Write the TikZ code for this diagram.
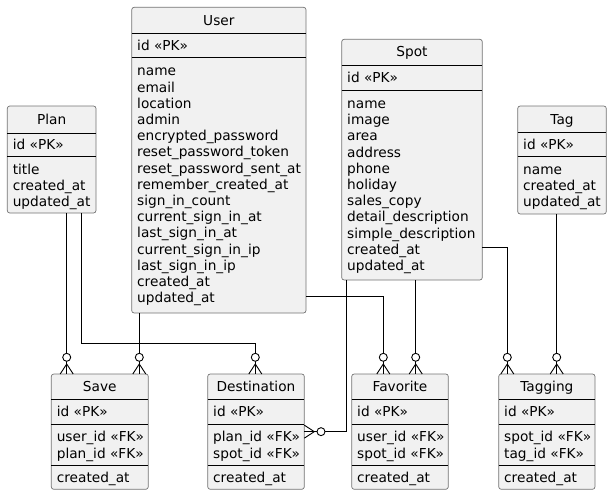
\documentclass[tikz,border=0pt]{standalone}
\usepackage{fontspec}
\setmainfont{DejaVu Sans}
\definecolor{boxfill}{HTML}{F1F1F1}
\newcommand\mkent[8]{%
  \pgfmathsetmacro\entw{#4-#2}%
  \pgfmathsetmacro\enth{#5-#3}%
  \node[ent, minimum width=\entw pt, minimum height=\enth pt] (#1) at (#2,#3) {};
  \draw[sepline] (#2,#7) -- (#4,#7);
  \draw[sepline] (#2,#8) -- (#4,#8);
  \node[ttl] (#1t) at ({(#2+#4)/2},{(#3+#7)/2+4.8}) {#6};
}
\newcommand\flist[4]{%
  \foreach \ftext [count=\fidx] in {#4} {
    \node[txt] (#1-\fidx) at (#2,{#3+(\fidx-1)*16.2}) {\ftext};
  }
}
\begin{document}
\begin{tikzpicture}[x=1pt,y=-1pt,
  ent/.style={draw=black!55, line width=0.7pt, fill=boxfill, rounded corners=2.5pt, inner sep=0pt, outer sep=0pt, anchor=north west},
  sepline/.style={draw=black, line width=0.9pt},
  txt/.style={font=\fontsize{13.7}{16.2}\selectfont, inner sep=0pt, outer sep=0pt, anchor=base west},
  ttl/.style={font=\fontsize{13.7}{16.2}\selectfont, inner sep=0pt, outer sep=0pt, anchor=base},
  conn/.style={draw=black, line width=0.9pt},
  crowdown/.pic={\draw[conn] (-6.5,0) -- (0,-10) -- (6.5,0); \draw[conn, fill=white] (0,-16.7) circle (4);},
  crowleft/.pic={\draw[conn] (0,-6.5) -- (10,0) -- (0,6.5); \draw[conn, fill=white] (16.7,0) circle (4);}
]
\useasboundingbox (0,0) rectangle (612,495);

% User
\mkent{User}{131.7}{7.3}{306}{313}{User}{33.3}{57.3}
\node[txt] (Userpk) at (137.2,50.1) {id «PK»};
\flist{Userf}{137.2}{75.8}{name,email,location,admin,encrypted\_password,reset\_password\_token,reset\_password\_sent\_at,remember\_created\_at,sign\_in\_count,current\_sign\_in\_at,last\_sign\_in\_at,current\_sign\_in\_ip,last\_sign\_in\_ip,created\_at,updated\_at}

% Plan
\mkent{Plan}{7.3}{106}{96}{213}{Plan}{133}{156}
\node[txt] (Planpk) at (12.8,149.3) {id «PK»};
\flist{Planf}{12.8}{174.3}{title,created\_at,updated\_at}

% Spot
\mkent{Spot}{341.7}{39.3}{482.3}{280}{Spot}{65}{90.7}
\node[txt] (Spotpk) at (347.2,82.6) {id «PK»};
\flist{Spotf}{347.2}{108.4}{name,image,area,address,phone,holiday,sales\_copy,detail\_description,simple\_description,created\_at,updated\_at}

% Tag
\mkent{Tag}{517.7}{106}{606.3}{214}{Tag}{132.7}{156}
\node[txt] (Tagpk) at (523.2,149.1) {id «PK»};
\flist{Tagf}{523.2}{174.3}{name,created\_at,updated\_at}

% bottom entities
\mkent{Save}{51.3}{374}{148.3}{489.3}{Save}{399.3}{424.3}
\draw[sepline] (51.3,465.3) -- (148.3,465.3);
\node[txt] (Savepk) at (56.8,416.6) {id «PK»};
\flist{Savefk}{56.8}{441.8}{user\_id «FK»,plan\_id «FK»}
\node[txt] (Savec) at (56.8,482.3) {created\_at};

\mkent{Destination}{207.7}{374}{304.3}{489.3}{Destination}{399.3}{424.3}
\draw[sepline] (207.7,465.3) -- (304.3,465.3);
\node[txt] (Destpk) at (213.2,416.6) {id «PK»};
\flist{Destfk}{213.2}{441.8}{plan\_id «FK»,spot\_id «FK»}
\node[txt] (Destc) at (213.2,482.3) {created\_at};

\mkent{Favorite}{351.7}{374}{448.3}{489.3}{Favorite}{399.3}{424.3}
\draw[sepline] (351.7,465.3) -- (448.3,465.3);
\node[txt] (Favpk) at (357.2,416.6) {id «PK»};
\flist{Favfk}{357.2}{441.8}{user\_id «FK»,spot\_id «FK»}
\node[txt] (Favc) at (357.2,482.3) {created\_at};

\mkent{Tagging}{498.7}{374}{595}{489.3}{Tagging}{399.3}{424.3}
\draw[sepline] (498.7,465.3) -- (595,465.3);
\node[txt] (Tgpk) at (504.2,416.6) {id «PK»};
\flist{Tgfk}{504.2}{441.8}{spot\_id «FK»,tag\_id «FK»}
\node[txt] (Tgc) at (504.2,482.3) {created\_at};

% connectors
\coordinate (ps) at ([xshift=59.4pt]Plan.south west);
\draw[conn] (ps) -- (ps |- Save.north) pic{crowdown};

\coordinate (pd) at ([xshift=74pt]Plan.south west);
\draw[conn] (pd) |- ([xshift=-0.7pt,yshift=30.7pt]Destination.north) -- ([xshift=-0.7pt]Destination.north) pic{crowdown};

\coordinate (us) at ([xshift=7.6pt]User.south west);
\draw[conn] (us) -- (us |- Save.north) pic{crowdown};

\draw[conn] ([yshift=16.3pt]User.south east) -| ([xshift=31.6pt]Favorite.north west) pic{crowdown};

\draw[conn] ([xshift=5pt]Spot.south west) |- (Destination.east) pic{crowleft};

\coordinate (sf) at ([xshift=74pt]Spot.south west);
\draw[conn] (sf) -- (sf |- Favorite.north) pic{crowdown};

\draw[conn] ([yshift=32.7pt]Spot.south east) -| ([xshift=8.6pt]Tagging.north west) pic{crowdown};

\coordinate (tt) at ([xshift=39pt]Tag.south west);
\draw[conn] (tt) -- (tt |- Tagging.north) pic{crowdown};
\end{tikzpicture}
\end{document}
